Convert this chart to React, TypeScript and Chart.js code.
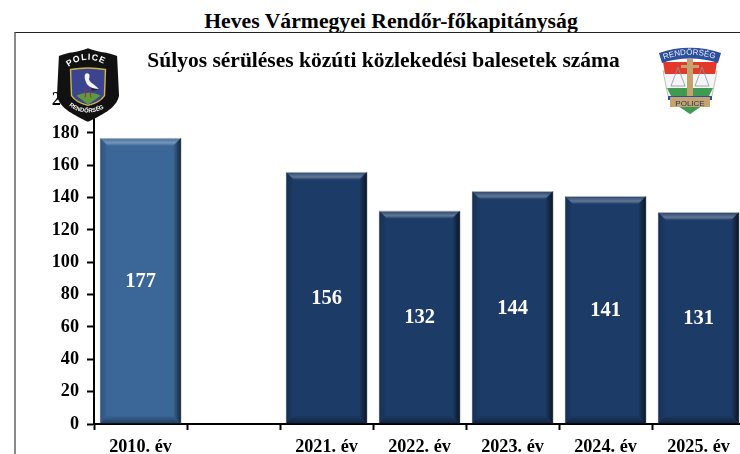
import React, { useEffect, useRef } from "react";
import { Chart, registerables } from "chart.js";

Chart.register(...registerables);

const heading = "Heves Vármegyei Rendőr-főkapitányság";
const chartTitle = "Súlyos sérüléses közúti közlekedési balesetek száma";
const categories = ["2010. év", "", "2021. év", "2022. év", "2023. év", "2024. év", "2025. év"];
const accidents = [177, null, 156, 132, 144, 141, 131];
const barColors = ["#3a6698", "#1c3b66", "#1c3b66", "#1c3b66", "#1c3b66", "#1c3b66", "#1c3b66"];
const serif = "'Liberation Serif', 'Times New Roman', serif";

const bevelPlugin = {
  id: "bevel",
  afterDatasetsDraw(chart: any) {
    const { ctx } = chart;
    const els = chart.getDatasetMeta(0).data;
    els.forEach((el: any, i: number) => {
      const v = accidents[i];
      if (v == null) return;
      const l = el.x - el.width / 2, r = el.x + el.width / 2, t = el.y, b = el.base;
      const d = 8;
      ctx.save();
      const top = ctx.createLinearGradient(0, t, 0, t + d);
      top.addColorStop(0, "rgba(255,255,255,0.04)");
      top.addColorStop(0.65, "rgba(255,255,255,0.3)");
      top.addColorStop(1, "rgba(255,255,255,0.03)");
      ctx.fillStyle = top;
      ctx.beginPath();
      ctx.moveTo(l, t); ctx.lineTo(r, t); ctx.lineTo(r - d, t + d); ctx.lineTo(l + d, t + d);
      ctx.closePath(); ctx.fill();
      const right = ctx.createLinearGradient(r - d, 0, r, 0);
      right.addColorStop(0, "rgba(0,0,0,0)");
      right.addColorStop(1, "rgba(0,0,0,0.65)");
      ctx.fillStyle = right;
      ctx.beginPath();
      ctx.moveTo(r, t); ctx.lineTo(r, b); ctx.lineTo(r - d, b - d); ctx.lineTo(r - d, t + d);
      ctx.closePath(); ctx.fill();
      const left = ctx.createLinearGradient(l, 0, l + d, 0);
      left.addColorStop(0, "rgba(0,0,0,0.2)");
      left.addColorStop(1, "rgba(0,0,0,0)");
      ctx.fillStyle = left;
      ctx.beginPath();
      ctx.moveTo(l, t); ctx.lineTo(l + d, t + d); ctx.lineTo(l + d, b - d); ctx.lineTo(l, b);
      ctx.closePath(); ctx.fill();
      const bottom = ctx.createLinearGradient(0, b - d, 0, b);
      bottom.addColorStop(0, "rgba(0,0,0,0)");
      bottom.addColorStop(1, "rgba(0,0,0,0.4)");
      ctx.fillStyle = bottom;
      ctx.beginPath();
      ctx.moveTo(l, b); ctx.lineTo(r, b); ctx.lineTo(r - d, b - d); ctx.lineTo(l + d, b - d);
      ctx.closePath(); ctx.fill();
      ctx.fillStyle = "#ffffff";
      ctx.font = `bold 20.5px ${serif}`;
      ctx.textAlign = "center";
      ctx.textBaseline = "middle";
      ctx.fillText(String(v), el.x, (t + b) / 2 + 1);
      ctx.restore();
    });
  },
};

function CountyBadge() {
  return (
    <svg width="64" height="78" viewBox="0 0 66 78" style={{ position: "absolute", left: 56, top: 46 }}>
      <path d="M33 1 C42 5 54 5 63 9 L65 50 C62 64 46 70 33 77 C20 70 4 64 1 50 L3 9 C12 5 24 5 33 1 Z" fill="#111" />
      <path d="M15 23 C26 21 40 21 51 23 L50 50 C46 56 38 59 33 60 C28 59 20 56 16 50 Z" fill="#3c4490" stroke="#c7b445" strokeWidth="1.5" />
      <path d="M21 50 C28 46 40 46 46 50 L33 59 Z" fill="#5d9a3c" />
      <path d="M32 27 C29 27 29 32 31 36 C32 41 39 43 44 43 C40 38 35 37 34 33 C35 30 35 27 32 27 Z" fill="#f3f3f3" />
      <path d="M36 42 L44 44 L37 45 Z" fill="#222" />
      <path d="M31 42 L30 52 M35 43 L36 52" stroke="#b02050" strokeWidth="1" />
      <defs>
        <path id="policeArc" d="M11 22 C24 10 42 10 56 22" />
        <path id="unitArc" d="M10 56 C20 71 46 71 57 56" />
      </defs>
      <text fontFamily="Liberation Sans" fontWeight="bold" fontSize="9" fill="#fff" letterSpacing="1">
        <textPath href="#policeArc" startOffset="5%">POLICE</textPath>
      </text>
      <text fontFamily="Liberation Sans" fontWeight="bold" fontSize="6" fill="#fff">
        <textPath href="#unitArc" startOffset="10%">RENDŐRSÉG</textPath>
      </text>
    </svg>
  );
}

function PoliceBadge() {
  return (
    <svg width="64" height="68" viewBox="0 0 64 68" style={{ position: "absolute", left: 658, top: 47 }}>
      <path d="M5 24 L59 24 L54 49 L32 67 L10 49 Z" fill="#f5f5f5" stroke="#9a9a8a" strokeWidth="0.6" />
      <path d="M5 15 H59 L57 27 H7 Z" fill="#e23a2a" />
      <path d="M9 41 H55 L50 51 H14 Z" fill="#3f9b52" />
      <path d="M20 59 H44 L32 67 Z" fill="#3f9b52" />
      <path d="M1 6 C20 -1 44 -1 63 6 L60 16 C44 10 20 10 4 16 Z" fill="#2c4f9e" />
      <rect x="29" y="12" width="6" height="38" fill="#c5a36f" />
      <rect x="23" y="18" width="18" height="3" fill="#c5a36f" />
      <path d="M20 20 L13 39 H27 Z M44 20 L37 39 H51 Z" fill="none" stroke="#8a93a8" strokeWidth="0.8" />
      <path d="M10 49 H54 V53 H52 V60 H12 V53 H10 Z" fill="#2c4f9e" />
      <rect x="12" y="50" width="40" height="10" fill="#c5a36f" />
      <text x="32" y="58.5" textAnchor="middle" fontFamily="Liberation Sans" fontSize="8" fill="#24345e">POLICE</text>
      <defs>
        <path id="rendorArc" d="M5 13 C22 6 42 6 60 13" />
      </defs>
      <text fontFamily="Liberation Sans" fontSize="8" fill="#e8ecf8">
        <textPath href="#rendorArc" startOffset="2%">RENDŐRSÉG</textPath>
      </text>
    </svg>
  );
}

export default function App() {
  const ref = useRef<HTMLCanvasElement>(null);

  useEffect(() => {
    const chart = new Chart(ref.current!, {
      type: "bar",
      data: {
        labels: categories,
        datasets: [
          {
            data: accidents,
            backgroundColor: barColors,
            borderColor: "#a9b0ba",
            borderWidth: { top: 1, left: 0.5, right: 0.5, bottom: 0 },
            categoryPercentage: 1,
            barPercentage: 0.875,
          },
        ],
      },
      plugins: [bevelPlugin],
      options: {
        animation: false,
        responsive: false,
        layout: { padding: { left: 6, right: 12, top: 0, bottom: 0 } },
        plugins: {
          legend: { display: false },
          tooltip: { enabled: false },
          title: {
            display: true,
            text: chartTitle,
            color: "#000",
            font: { family: serif, weight: "bold", size: 21.5, lineHeight: 1.2 },
            padding: { top: 16, bottom: 25.7 },
          },
        },
        scales: {
          x: {
            offset: true,
            afterFit: (s: any) => { s.height = 30; },
            grid: { offset: true, drawOnChartArea: false, color: "#000", tickColor: "#000", tickLength: 6, tickWidth: 2 },
            border: { color: "#000", width: 2 },
            ticks: { color: "#000", padding: 6, maxRotation: 0, autoSkip: false, font: { family: serif, weight: "bold", size: 18.2 } },
          },
          y: {
            min: 0,
            max: 200,
            afterFit: (s: any) => { s.width = 72; },
            grid: { drawOnChartArea: false, color: "#000", tickColor: "#000", tickLength: 7, tickWidth: 2 },
            border: { color: "#000", width: 2 },
            ticks: { stepSize: 20, color: "#000", padding: 8, font: { family: serif, weight: "bold", size: 18.2 } },
          },
        },
      },
    } as any);
    return () => chart.destroy();
  }, []);

  return (
    <div style={{ position: "fixed", left: 0, top: 0, width: 740, height: 454, overflow: "hidden", background: "#fff" }}>
      <div style={{ position: "absolute", left: 0, top: 10, width: 782, textAlign: "center", fontFamily: serif, fontWeight: "bold", fontSize: 21.7, lineHeight: "23px", color: "#000" }}>
        {heading}
      </div>
      <div style={{ position: "absolute", left: 14, top: 32, borderTop: "1px solid #222", borderLeft: "2px solid #8a8a8a" }}>
        <canvas ref={ref} width={741} height={421} style={{ display: "block" }} />
      </div>
      <CountyBadge />
      <PoliceBadge />
    </div>
  );
}
